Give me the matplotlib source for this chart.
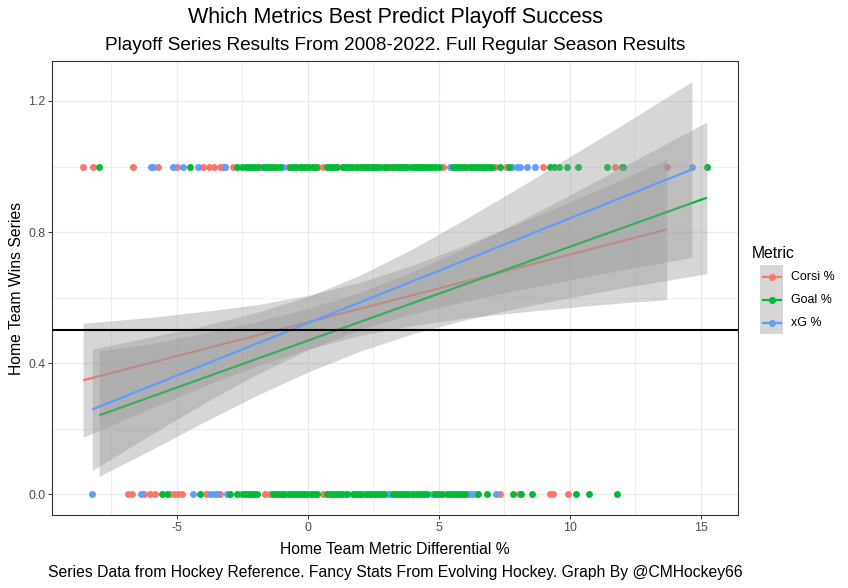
import matplotlib.pyplot as plt
from matplotlib.patches import Rectangle
from matplotlib.lines import Line2D

plt.rcParams['font.family'] = ['Liberation Sans', 'DejaVu Sans']
plt.rcParams['axes.unicode_minus'] = False

metrics = ['Corsi %', 'Goal %', 'xG %']
colors = {'Corsi %': '#F8766D', 'Goal %': '#00BA38', 'xG %': '#619CFF'}

# home team metric differential for series the home team won (y=1) / lost (y=0)
corsi_win_x = [-8.58, -8.19, -6.67, -5.71, -4.99, -4.0, -3.77, -3.58, -3.36, -3.24, -3.17,
               -2.85, -1.83, -0.76, 0.4, 0.57, 1.3, 2.25, 3.05, 3.13, 3.5, 3.6, 4.4, 5.15,
               6.1, 7.14, 7.56, 8.97, 11.72, 13.7]
corsi_loss_x = [-6.87, -6.72, -6.26, -6.03, -5.84, -5.27, -5.1, -4.95, -4.82, -3.89, -3.36,
                -1.64, -1.45, 0.57, 1.98, 3.13, 3.78, 5.15, 6.07, 7.33, 8.05, 9.24, 9.35, 9.92]
xg_win_x = [-6.0, -5.9, -5.14, -4.76, -4.19, -3.17, -1.72, -0.95, 1.0, 2.5, 4.3, 5.42,
            6.8, 7.8, 7.97, 8.1, 8.36, 8.66, 14.66]
xg_loss_x = [-8.23, -6.39, -4.40, -3.74, -3.6, -3.48, -3.10, -2.2, 1.53, 3.05, 4.73,
             6.18, 6.3, 6.45, 7.17]
goal_win_x = [-7.97, -4.5, -2.72, -2.5, -2.38, -2.26, -2.14, -2.02, -1.9, -1.68, -1.56,
              -1.44, -1.32, -1.2, -1.07, -0.68, -0.56, -0.44, -0.3, -0.18, -0.06, 0.06,
              0.18, 0.3, 0.72, 0.84, 0.96, 1.1, 1.34, 1.46, 1.58, 1.7, 1.82, 1.94, 2.06,
              2.17, 2.29, 2.41, 2.53, 2.65, 2.77, 2.89, 3.01, 3.2, 3.32, 3.44, 3.56, 3.68,
              3.8, 3.92, 4.04, 4.16, 4.27, 4.39, 4.51, 4.63, 4.75, 4.87, 5.0, 5.53, 5.65,
              5.77, 5.89, 6.01, 6.18, 6.3, 6.42, 6.54, 6.66, 6.78, 6.9, 7.02, 7.33, 7.67,
              9.24, 9.4, 9.6, 9.88, 10.3, 11.4, 11.98, 12.03, 15.23]
goal_loss_x = [-5.58, -5.39, -4.12, -2.98, -2.72, -2.53, -2.41, -2.29, -2.17, -2.05, -1.93,
               -1.34, -1.22, -1.1, -0.98, -0.86, -0.74, -0.62, -0.5, -0.38, -0.26, -0.14,
               -0.02, 0.1, 0.22, 0.34, 0.72, 0.84, 0.96, 1.08, 1.2, 1.32, 1.44, 1.72, 1.84,
               1.96, 2.08, 2.2, 2.32, 2.44, 2.56, 2.68, 2.8, 2.92, 3.24, 3.36, 3.48, 3.6,
               3.72, 3.84, 3.96, 4.08, 4.2, 4.32, 4.44, 4.56, 4.85, 4.97, 5.09, 5.3, 5.42,
               5.54, 5.66, 5.78, 5.9, 6.0, 6.49, 6.83, 7.82, 8.13, 8.55, 10.23, 10.73, 11.79]

# linear fit end points and confidence band
corsi_line_x = [-8.58, 13.7]
corsi_line_y = [0.348, 0.808]
goal_line_x = [-7.97, 15.23]
goal_line_y = [0.241, 0.905]
xg_line_x = [-8.23, 14.66]
xg_line_y = [0.259, 0.991]

corsi_band_x = [-8.58, -6, -4, -2, 0, 2, 4, 6, 8, 10, 12, 13.7]
corsi_band_lo = [0.174, 0.262, 0.329, 0.390, 0.443, 0.485, 0.515, 0.538, 0.555, 0.570, 0.584, 0.594]
corsi_band_hi = [0.522, 0.540, 0.558, 0.578, 0.607, 0.647, 0.699, 0.760, 0.825, 0.892, 0.962, 1.022]
goal_band_x = [-7.97, -6, -4, -2, 0, 2, 4, 6, 8, 10, 12, 15.23]
goal_band_lo = [0.055, 0.135, 0.219, 0.300, 0.373, 0.437, 0.490, 0.532, 0.568, 0.600, 0.630, 0.673]
goal_band_hi = [0.438, 0.459, 0.491, 0.526, 0.567, 0.617, 0.680, 0.751, 0.830, 0.913, 0.998, 1.136]
xg_band_x = [-8.23, -6, -4, -2, 0, 2, 4, 6, 8, 10, 12, 14.66]
xg_band_lo = [0.073, 0.182, 0.276, 0.364, 0.441, 0.503, 0.551, 0.589, 0.623, 0.654, 0.685, 0.723]
xg_band_hi = [0.443, 0.480, 0.514, 0.554, 0.603, 0.669, 0.749, 0.839, 0.933, 1.030, 1.127, 1.259]

x_ticks = [-5, 0, 5, 10, 15]
y_ticks = [0.0, 0.4, 0.8, 1.2]

W, H = 848, 588
fig = plt.figure(figsize=(W / 100, H / 100), dpi=100)
L, R, T, B = 52, 738, 61, 515
ax = fig.add_axes([L / W, 1 - B / H, (R - L) / W, (B - T) / H])

# points first (ggplot layer order), green on top
for name, wx, lx in [('Corsi %', corsi_win_x, corsi_loss_x),
                     ('xG %', xg_win_x, xg_loss_x),
                     ('Goal %', goal_win_x, goal_loss_x)]:
    ax.scatter(wx, [1] * len(wx), s=25, color=colors[name], lw=0, zorder=2)
    ax.scatter(lx, [0] * len(lx), s=25, color=colors[name], lw=0, zorder=2)

smooths = [('Corsi %', corsi_band_x, corsi_band_lo, corsi_band_hi, corsi_line_x, corsi_line_y),
           ('Goal %', goal_band_x, goal_band_lo, goal_band_hi, goal_line_x, goal_line_y),
           ('xG %', xg_band_x, xg_band_lo, xg_band_hi, xg_line_x, xg_line_y)]
z = 3
for name, bx, lo, hi, lx, ly in smooths:
    ax.fill_between(bx, lo, hi, color='#999999', alpha=0.4, lw=0, zorder=z)
    ax.plot(lx, ly, color=colors[name], lw=1.6, zorder=z + 1, solid_capstyle='butt')
    z += 2

ax.axhline(0.5, color='black', lw=1.5, zorder=20)

ax.set_xlim(-9.77, 16.42)
ax.set_ylim(-0.063, 1.322)
ax.set_xticks(x_ticks)
ax.set_yticks(y_ticks)
ax.set_yticklabels(['%.1f' % v for v in y_ticks])
ax.set_xticks([-7.5, -2.5, 2.5, 7.5, 12.5], minor=True)
ax.set_yticks([0.2, 0.6, 1.0], minor=True)
ax.grid(True, which='major', color='#EBEBEB', lw=1.0)
ax.grid(True, which='minor', color='#EBEBEB', lw=0.6)
ax.set_axisbelow(True)
ax.tick_params(which='major', length=2.7, width=0.7, color='#333333', pad=2.1,
               labelsize=8.9, labelcolor='#4D4D4D')
ax.tick_params(which='minor', length=0)
for s in ax.spines.values():
    s.set_color('#333333')
    s.set_linewidth(0.8)

ax.set_xlabel('Home Team Metric Differential %', fontsize=11.3, va='center')
ax.xaxis.set_label_coords(0.5, (B - 549) / (B - T))
ax.set_ylabel('Home Team Wins Series', fontsize=11.3, va='center')
ax.yaxis.set_label_coords((17 - L) / (R - L), 0.5)

cx = (L + R) / 2 / W
fig.text(cx, 1 - 17 / H, 'Which Metrics Best Predict Playoff Success', ha='center', va='center', fontsize=15.5)
fig.text(cx, 1 - 45 / H, 'Playoff Series Results From 2008-2022. Full Regular Season Results',
         ha='center', va='center', fontsize=13.7)
fig.text(cx, 1 - 572 / H, 'Series Data from Hockey Reference. Fancy Stats From Evolving Hockey. Graph By @CMHockey66',
         ha='center', va='center', fontsize=11.35)

# legend drawn in pixel coordinates
lax = fig.add_axes([0, 0, 1, 1], facecolor='none')
lax.set_xlim(0, W)
lax.set_ylim(H, 0)
lax.axis('off')
lax.text(752, 253, 'Metric', fontsize=11.3, va='center', ha='left')
key_top = 265
for i, name in enumerate(metrics):
    y0 = key_top + i * 23
    lax.add_patch(Rectangle((760, y0), 23, 23, facecolor='#D6D6D6', edgecolor='none'))
    lax.add_line(Line2D([762.5, 780.5], [y0 + 11.5, y0 + 11.5], color=colors[name], lw=1.6))
    lax.plot([771.5], [y0 + 11.5], 'o', color=colors[name], ms=4)
    lax.text(791, y0 + 12, name, fontsize=8.9, va='center', ha='left')

fig.savefig('out.png', dpi=100)
